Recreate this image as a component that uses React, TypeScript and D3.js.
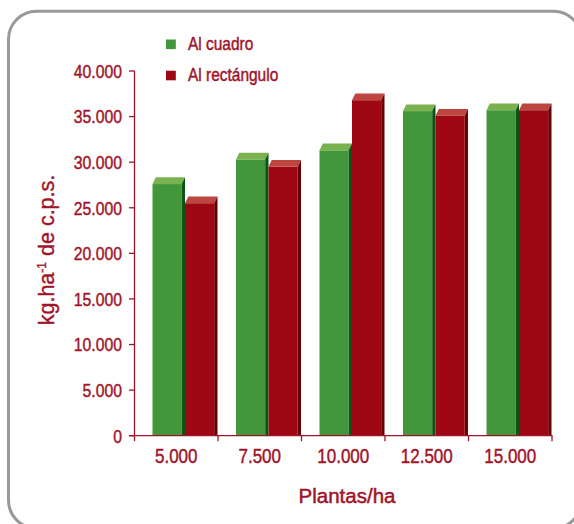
import React from "react";
import * as d3 from "d3";

// Plant density categories and yield per planting arrangement (kg/ha)
const categories = ["5.000", "7.500", "10.000", "12.500", "15.000"];
const seriesNames = ["Al cuadro", "Al rectángulo"];
const cuadroValues = [27600, 30300, 31300, 35600, 35700];
const rectanguloValues = [25500, 29500, 36800, 35100, 35700];
const yTicks = [0, 5000, 10000, 15000, 20000, 25000, 30000, 35000, 40000];

const W = 574;
const H = 524;
const AXIS = "#a0142a";
const TEXT = "#a0142a";
const FONT = "'Liberation Sans', Arial, sans-serif";

const palette = [
  { front: "#43973b", top: "#7ab24f", side: "#0b5418" },
  { front: "#9d0814", top: "#bd4640", side: "#6a0006" },
];

const fmt = (v: number) => (v === 0 ? "0" : d3.format(",")(v).replace(/,/g, "."));

// Horizontally condensed text label, slightly thickened
function NarrowText(props: {
  x: number;
  y: number;
  anchor?: "start" | "middle" | "end";
  size: number;
  sx?: number;
  children: React.ReactNode;
}) {
  const { x, y, anchor = "start", size, sx = 0.83, children } = props;
  return (
    <text
      transform={`translate(${x},${y}) scale(${sx},1)`}
      textAnchor={anchor}
      fontFamily={FONT}
      fontSize={size}
      fill={TEXT}
      stroke={TEXT}
      strokeWidth={0.45}
    >
      {children}
    </text>
  );
}

export default function App() {
  const x = d3.scaleBand<string>().domain(categories).range([134.5, 552]).padding(0);
  const inner = d3.scaleBand<string>().domain(seriesNames).range([18, 83]).padding(0);
  const y = d3.scaleLinear().domain([0, 40000]).range([435.7, 71]);
  const y0 = y(0);
  const dx = 3.3;
  const dy = 6.7;

  const series = [cuadroValues, rectanguloValues];

  return (
    <svg width={W} height={H} style={{ position: "absolute", left: 0, top: 0 }}>
      <rect x={0} y={0} width={W} height={H} fill="#ffffff" />
      {/* rounded frame */}
      <rect x={8.5} y={11.3} width={573} height={517} rx={28} ry={28} fill="none" stroke="#999999" strokeWidth={3} />

      {/* bars */}
      {categories.map((c, i) =>
        series.map((vals, s) => {
          const col = palette[s];
          const bx = (x(c) as number) + (inner(seriesNames[s]) as number);
          const w = inner.bandwidth() - dx;
          const by = y(vals[i]);
          return (
            <g key={c + s}>
              <rect x={bx} y={by} width={w} height={y0 - by} fill={col.front} />
              <polygon
                points={`${bx},${by} ${bx + w},${by} ${bx + w + dx},${by - dy} ${bx + dx},${by - dy}`}
                fill={col.top}
              />
              <polygon
                points={`${bx + w},${by} ${bx + w + dx},${by - dy} ${bx + w + dx},${y0} ${bx + w},${y0}`}
                fill={col.side}
              />
            </g>
          );
        })
      )}

      {/* y axis */}
      <line x1={134.5} x2={134.5} y1={y(40000)} y2={y0} stroke={AXIS} strokeWidth={1.3} />
      {yTicks.map((t) => (
        <g key={t}>
          <line x1={129} x2={134.5} y1={y(t)} y2={y(t)} stroke={AXIS} strokeWidth={1.3} />
          <NarrowText x={122} y={y(t) + 6.8} anchor="end" size={19}>
            {fmt(t)}
          </NarrowText>
        </g>
      ))}

      {/* x axis */}
      <line x1={129} x2={552.5} y1={y0} y2={y0} stroke={AXIS} strokeWidth={1.3} />
      {[...categories.map((c) => x(c) as number), 552].map((p, i) => (
        <line key={i} x1={p} x2={p} y1={y0} y2={y0 + 5.5} stroke={AXIS} strokeWidth={1.3} />
      ))}
      {categories.map((c) => (
        <NarrowText key={c} x={(x(c) as number) + x.bandwidth() / 2} y={463.3} anchor="middle" size={20.5}>
          {c}
        </NarrowText>
      ))}

      {/* axis titles */}
      <text
        x={347}
        y={503.3}
        textAnchor="middle"
        fontFamily={FONT}
        fontSize={20.5}
        fill={TEXT}
        stroke={TEXT}
        strokeWidth={0.5}
      >
        Plantas/ha
      </text>
      <text
        transform="translate(54,250) rotate(-90)"
        textAnchor="middle"
        fontFamily={FONT}
        fontSize={21.5}
        fill={TEXT}
        stroke={TEXT}
        strokeWidth={0.4}
      >
        kg.ha
        <tspan fontSize={12} dy={-8}>-1</tspan>
        <tspan dy={8}> de c.p.s.</tspan>
      </text>

      {/* legend */}
      {seriesNames.map((n, s) => (
        <g key={n}>
          <rect x={166} y={39.5 + s * 31.2} width={9.8} height={9.6} fill={palette[s].front} />
          <NarrowText x={188} y={50 + s * 31.2} size={18} sx={0.86}>
            {n}
          </NarrowText>
        </g>
      ))}
    </svg>
  );
}
